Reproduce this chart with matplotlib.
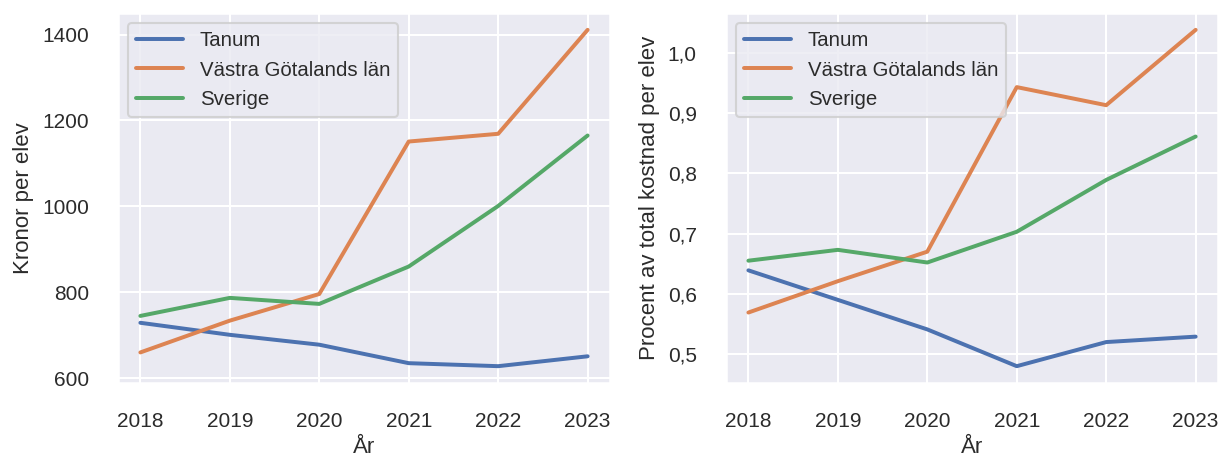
import matplotlib
matplotlib.use('Agg')
import matplotlib.pyplot as plt
import seaborn as sns
from matplotlib.ticker import FuncFormatter, MultipleLocator

# data
years = [2018, 2019, 2020, 2021, 2022, 2023]
series_names = ['Tanum', 'Västra Götalands län', 'Sverige']

kronor_tanum = [729, 701, 678, 635, 628, 651]
kronor_vgl = [660, 734, 796, 1151, 1169, 1411]
kronor_sverige = [745, 787, 773, 860, 1001, 1165]

procent_tanum = [0.639, 0.590, 0.541, 0.480, 0.520, 0.529]
procent_vgl = [0.569, 0.621, 0.670, 0.943, 0.913, 1.038]
procent_sverige = [0.655, 0.673, 0.652, 0.703, 0.789, 0.861]

sns.set_theme(style='darkgrid')
plt.rcParams['font.family'] = ['Liberation Sans', 'DejaVu Sans']
plt.rcParams['text.color'] = '#2b2b2b'
plt.rcParams['axes.labelcolor'] = '#2b2b2b'
plt.rcParams['xtick.color'] = '#2b2b2b'
plt.rcParams['ytick.color'] = '#2b2b2b'

fig = plt.figure(figsize=(1219/150, 459/150), dpi=150)
ax1 = fig.add_axes([0.0968, 0.1656, 0.4036, 0.806])
ax2 = fig.add_axes([0.5956, 0.1656, 0.4036, 0.806])

for y, name in zip([kronor_tanum, kronor_vgl, kronor_sverige], series_names):
    ax1.plot(years, y, label=name, lw=1.9)
for y, name in zip([procent_tanum, procent_vgl, procent_sverige], series_names):
    ax2.plot(years, y, label=name, lw=1.9)

ax1.yaxis.set_major_locator(MultipleLocator(200))
ax1.set_ylabel('Kronor per elev', fontsize=10.7)
ax2.set_ylabel('Procent av total kostnad per elev', fontsize=10.7)
ax2.yaxis.set_major_formatter(FuncFormatter(lambda v, p: f'{v:.1f}'.replace('.', ',')))

for ax in (ax1, ax2):
    ax.set_xlabel('År', fontsize=10.7, labelpad=3)
    ax.set_xticks(years)
    ax.tick_params(labelsize=10, pad=8)
    ax.legend(loc='upper left', fontsize=9.8, handlelength=2.3)

fig.savefig('out.png', dpi=150)
